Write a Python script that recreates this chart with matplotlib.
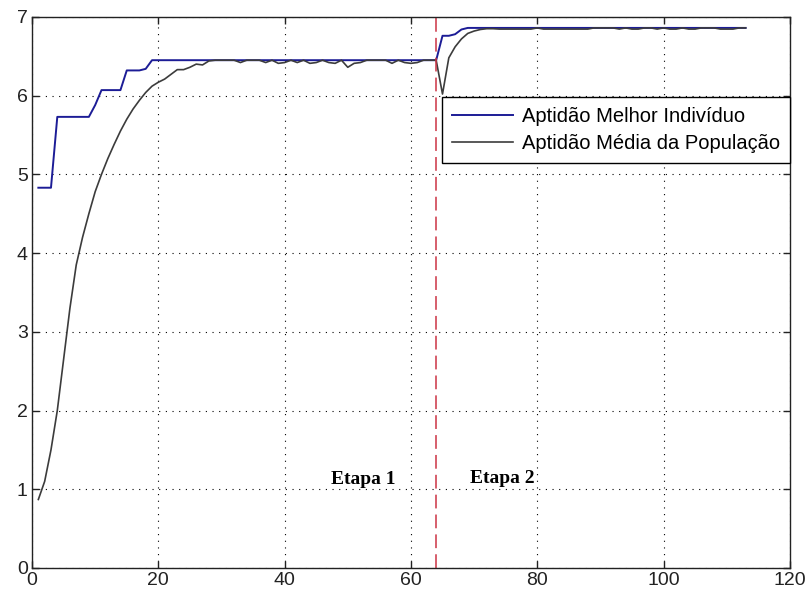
import numpy as np
import matplotlib
matplotlib.use('Agg')
import matplotlib.pyplot as plt

plt.rcParams['font.family'] = ['Liberation Sans', 'DejaVu Sans']

# fitness per generation
geracao = np.arange(1, 114)
melhor = [4.83, 4.83, 4.83, 5.73, 5.73, 5.73, 5.73, 5.73, 5.73, 5.88,
          6.07, 6.07, 6.07, 6.07, 6.32, 6.32, 6.32, 6.34, 6.45, 6.45,
          6.45, 6.45, 6.45, 6.45, 6.45, 6.45, 6.45, 6.45, 6.45, 6.45,
          6.45, 6.45, 6.45, 6.45, 6.45, 6.45, 6.45, 6.45, 6.45, 6.45,
          6.45, 6.45, 6.45, 6.45, 6.45, 6.45, 6.45, 6.45, 6.45, 6.45,
          6.45, 6.45, 6.45, 6.45, 6.45, 6.45, 6.45, 6.45, 6.45, 6.45,
          6.45, 6.45, 6.45, 6.45, 6.76, 6.76, 6.78, 6.84, 6.86, 6.86,
          6.86, 6.86, 6.86, 6.86, 6.86, 6.86, 6.86, 6.86, 6.86, 6.86,
          6.86, 6.86, 6.86, 6.86, 6.86, 6.86, 6.86, 6.86, 6.86, 6.86,
          6.86, 6.86, 6.86, 6.86, 6.86, 6.86, 6.86, 6.86, 6.86, 6.86,
          6.86, 6.86, 6.86, 6.86, 6.86, 6.86, 6.86, 6.86, 6.86, 6.86,
          6.86, 6.86, 6.86]
media = [0.87, 1.10, 1.50, 2.00, 2.65, 3.30, 3.85, 4.20, 4.50, 4.78,
         5.00, 5.20, 5.38, 5.55, 5.70, 5.83, 5.94, 6.04, 6.12, 6.17,
         6.21, 6.27, 6.33, 6.33, 6.36, 6.40, 6.39, 6.44, 6.45, 6.45,
         6.45, 6.45, 6.42, 6.45, 6.45, 6.45, 6.42, 6.45, 6.41, 6.42,
         6.45, 6.42, 6.45, 6.41, 6.42, 6.45, 6.42, 6.41, 6.45, 6.36,
         6.41, 6.42, 6.45, 6.45, 6.45, 6.45, 6.41, 6.45, 6.42, 6.41,
         6.42, 6.45, 6.45, 6.45, 6.02, 6.48, 6.62, 6.72, 6.79, 6.82,
         6.84, 6.85, 6.85, 6.845, 6.845, 6.845, 6.845, 6.845, 6.845, 6.86,
         6.845, 6.845, 6.845, 6.845, 6.845, 6.845, 6.845, 6.845, 6.86, 6.86,
         6.86, 6.86, 6.845, 6.86, 6.845, 6.845, 6.86, 6.86, 6.845, 6.86,
         6.845, 6.845, 6.86, 6.845, 6.845, 6.86, 6.86, 6.86, 6.845, 6.845,
         6.845, 6.86, 6.86]
troca_etapa = 64

fig = plt.figure(figsize=(8.07, 5.99), dpi=100)
ax = fig.add_axes([0.0397, 0.0518, 0.939, 0.920])

ax.plot(geracao, melhor, color='#1c1c96', lw=1.4, label='Aptidão Melhor Indivíduo')
ax.plot(geracao, media, color='#3c3c3c', lw=1.2, label='Aptidão Média da População')
ax.plot([troca_etapa, troca_etapa], [0, 7], color='#cc3344', lw=1.1, dashes=(9, 4))

ax.text(52.5, 1.12, 'Etapa 1', family=['Liberation Serif'], weight='bold',
        fontsize=14, ha='center', va='center')
ax.text(74.4, 1.14, 'Etapa 2', family=['Liberation Serif'], weight='bold',
        fontsize=14, ha='center', va='center')

ax.set_xlim(0, 120)
ax.set_ylim(0, 7)
ax.set_xticks(range(0, 121, 20))
ax.set_yticks(range(0, 8))
ax.grid(True, color='black', lw=0.8, dashes=(1, 5))
ax.tick_params(direction='in', top=True, right=True, length=5, width=1,
               labelsize=14, pad=3, colors='#222222')
for s in ax.spines.values():
    s.set_color('#222222')
    s.set_linewidth(1.0)

leg = ax.legend(loc='upper right', bbox_to_anchor=(1.0, 0.855), borderaxespad=0,
                fontsize=14.5, fancybox=False, framealpha=1, edgecolor='black',
                handlelength=3.0, borderpad=0.5, labelspacing=0.4, handletextpad=0.45)
leg.get_frame().set_linewidth(1.0)

fig.savefig('out.png', dpi=100)
